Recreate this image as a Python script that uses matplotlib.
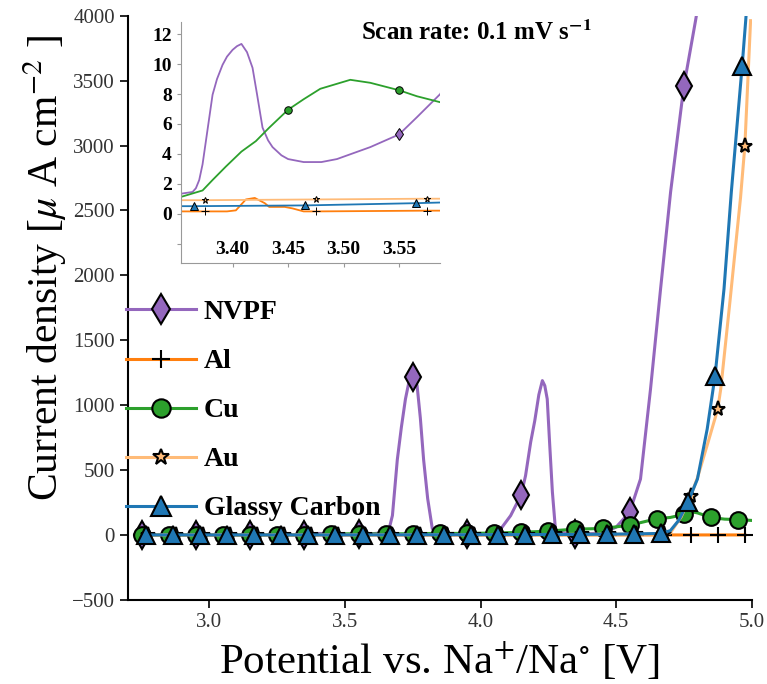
import numpy as np
import matplotlib
matplotlib.use('Agg')
import matplotlib.pyplot as plt

plt.rcParams['font.family'] = ['Liberation Serif', 'DejaVu Serif']
plt.rcParams['mathtext.fontset'] = 'stix'

# NVPF (uA cm-2)
nvpf_x = [2.75, 2.85, 2.95, 3.05, 3.15, 3.25, 3.35, 3.355, 3.364, 3.367, 3.370, 3.373,
          3.376, 3.379, 3.382, 3.386, 3.391, 3.395, 3.400, 3.404, 3.408, 3.413, 3.418,
          3.422, 3.427, 3.432, 3.436, 3.444, 3.45, 3.464, 3.48, 3.494, 3.524, 3.55,
          3.566, 3.587, 3.62, 3.65, 3.662, 3.675, 3.693, 3.708, 3.723, 3.737, 3.745,
          3.75, 3.758, 3.766, 3.778, 3.79, 3.805, 3.822, 3.835, 3.85, 3.95, 4.05, 4.074,
          4.111, 4.15, 4.166, 4.185, 4.20, 4.215, 4.228, 4.237, 4.246, 4.255, 4.265,
          4.277, 4.35, 4.45, 4.50, 4.55, 4.59, 4.627, 4.664, 4.701, 4.75, 4.793, 4.82,
          4.85, 4.95]
nvpf_y = [1.3, 1.3, 1.3, 1.3, 1.3, 1.3, 1.3, 1.35, 1.45, 1.7, 2.25, 3.3,
          4.85, 6.4, 7.95, 9.0, 9.95, 10.5, 10.95, 11.2, 11.35, 10.8, 9.75,
          8.0, 5.75, 4.9, 4.45, 3.9, 3.65, 3.45, 3.45, 3.65, 4.45, 5.3,
          6.45, 8.0, 13, 25, 40, 150, 580, 830, 1047, 1190, 1212,
          1215, 1200, 1150, 900, 580, 280, 50, 15, 10, 5, 12, 45,
          149, 310, 457, 716, 880, 1080, 1189, 1150, 1047, 700, 331,
          25, 5, 15, 60, 175, 431, 1125, 1895, 2642, 3457, 3962, 4300,
          4700, 6000]

# Al
al_x = [2.775, 2.875, 2.975, 3.075, 3.175, 3.275, 3.353, 3.375, 3.395, 3.403, 3.412,
        3.42, 3.429, 3.433, 3.447, 3.454, 3.464, 3.475, 3.575, 3.59, 3.675, 3.775,
        3.875, 3.975, 4.075, 4.175, 4.275, 4.375, 4.475, 4.575, 4.675, 4.775, 4.875, 4.975]
al_y = [0.15, 0.15, 0.15, 0.15, 0.15, 0.15, 0.15, 0.15, 0.15, 0.22, 0.95,
        1.05, 0.7, 0.45, 0.45, 0.35, 0.15, 0.15, 0.2, 0.2, 0.2, 0.2,
        0.2, 0.2, 0.2, 0.2, 0.2, 0.2, 0.2, 0.2, 0.2, 0.2, 0.2, 0.2]

# Cu
cu_x = [2.75, 2.85, 2.95, 3.05, 3.15, 3.25, 3.35, 3.355, 3.373, 3.382, 3.394, 3.408,
        3.421, 3.433, 3.45, 3.464, 3.479, 3.506, 3.524, 3.55, 3.566, 3.587, 3.65, 3.75,
        3.85, 3.95, 4.05, 4.15, 4.25, 4.35, 4.45, 4.55, 4.65, 4.70, 4.75, 4.78, 4.80,
        4.85, 4.90, 4.95, 5.0]
cu_y = [1.1, 1.1, 1.1, 1.1, 1.1, 1.1, 1.1, 1.15, 1.55, 2.25, 3.15, 4.15,
        4.85, 5.75, 6.95, 7.65, 8.35, 8.95, 8.75, 8.25, 7.85, 7.45, 8, 10,
        12, 12, 15, 20, 30, 45, 50, 75, 125, 135, 158, 178, 170,
        135, 122, 118, 112]

# Au
au_x = [2.775, 2.875, 2.975, 3.075, 3.175, 3.275, 3.353, 3.375, 3.475, 3.575, 3.59,
        3.675, 3.775, 3.875, 3.975, 4.075, 4.175, 4.275, 4.375, 4.475, 4.575, 4.675,
        4.70, 4.74, 4.775, 4.80, 4.84, 4.875, 4.886, 4.92, 4.959, 4.975, 4.996]
au_y = [0.85, 0.85, 0.85, 0.85, 0.85, 0.85, 0.9, 0.9, 0.95, 1.0, 1.0,
        1.2, 1.5, 2, 2, 3, 3, 4, 5, 6, 6, 6,
        15, 140, 300, 440, 720, 971, 1125, 1800, 2600, 3000, 3962]

# Glassy Carbon
gc_x = [2.765, 2.865, 2.965, 3.065, 3.165, 3.265, 3.353, 3.365, 3.465, 3.565, 3.59,
        3.665, 3.765, 3.865, 3.965, 4.065, 4.165, 4.265, 4.365, 4.465, 4.565, 4.665,
        4.70, 4.73, 4.765, 4.80, 4.836, 4.865, 4.898, 4.925, 4.965, 4.978, 4.99]
gc_y = [0.45, 0.45, 0.45, 0.45, 0.45, 0.45, 0.5, 0.5, 0.55, 0.7, 0.75,
        1, 1.5, 2, 2, 3, 3, 4, 4, 6, 8, 12,
        33, 110, 252, 431, 816, 1227, 1895, 2642, 3616, 3962, 4300]

# where the symbols sit on each curve
nvpf_marks = np.arange(2.75, 4.96, 0.2)
cu_marks = np.arange(2.75, 4.96, 0.1)
gc_marks = np.arange(2.765, 4.97, 0.1)
au_marks = np.arange(2.775, 4.98, 0.1)

series = [
    ('NVPF', nvpf_x, nvpf_y, nvpf_marks, '#9467bd', 'd', 14, '#9467bd'),
    ('Al', al_x, al_y, au_marks, '#ff7f0e', '+', 12, 'black'),
    ('Cu', cu_x, cu_y, cu_marks, '#2ca02c', 'o', 12, '#2ca02c'),
    ('Au', au_x, au_y, au_marks, '#ffbb78', '*', 11, '#ffbb78'),
    ('Glassy Carbon', gc_x, gc_y, gc_marks, '#1f77b4', '^', 13, '#1f77b4'),
]

fig = plt.figure(figsize=(7.67, 6.84), dpi=100)
ax = fig.add_axes([0.167, 0.123, 0.813, 0.854])
axin = fig.add_axes([0.236, 0.6155, 0.338, 0.352])
axin.patch.set_alpha(0)

for name, x, y, marks, col, mk, ms, fc in series:
    x = np.array(x)
    every = np.isin(np.round(x, 3), np.round(marks, 3))
    ax.plot(x, y, color=col, lw=2.2, marker=mk, ms=ms, mfc=fc, mec='black',
            mew=1.5, markevery=list(every), label=name)
    axin.plot(x, y, color=col, lw=1.3, marker=mk, ms=ms * 0.45, mfc=fc,
              mec='black', mew=0.7, markevery=list(every))

ax.set_xlim(2.70, 5.0)
ax.set_ylim(-500, 4000)
ax.set_xticks([3.0, 3.5, 4.0, 4.5, 5.0])
ax.set_yticks(np.arange(-500, 4001, 500))
ax.spines['top'].set_visible(False)
ax.spines['right'].set_visible(False)
for s in ['left', 'bottom']:
    ax.spines[s].set_linewidth(1.5)
ax.tick_params(labelsize=15, length=6, width=1.2, labelcolor='#333333')
ax.set_xlabel(r'Potential vs. Na$^{+}$/Na$^{\circ}$ [V]', fontsize=31, labelpad=6)
ax.set_ylabel(r'Current density [$\mu$ A cm$^{-2}$ ]', fontsize=30)
ax.yaxis.set_label_coords(-0.095, 0.568)

fig.text(0.6215, 0.952, r'Scan rate: 0.1 mV s$^{\mathbf{-1}}$',
         ha='center', va='center', fontsize=18, fontweight='bold')

ax.legend(loc='center left', bbox_to_anchor=(-0.003, 0.324), frameon=False,
          prop={'weight': 'bold', 'size': 20}, handlelength=2.5, handletextpad=0.3,
          labelspacing=0.85, borderaxespad=0, borderpad=0, markerscale=1.1)

# inset
axin.set_xlim(3.3536, 3.587)
axin.set_ylim(-3.3, 12.8)
axin.set_xticks([3.40, 3.45, 3.50, 3.55])
axin.set_xticklabels(['3.40', '3.45', '3.50', '3.55'], fontweight='bold')
axin.set_yticks(np.arange(-2, 13, 2))
axin.set_yticklabels([''] + [str(v) for v in range(0, 13, 2)], fontweight='bold')
axin.spines['top'].set_visible(False)
axin.spines['right'].set_visible(False)
for s in ['left', 'bottom']:
    axin.spines[s].set_color('#999999')
axin.tick_params(axis='x', labelsize=14, length=3, pad=-19, color='#999999')
axin.tick_params(axis='y', labelsize=14, length=3, color='#999999')

fig.savefig('out.png', dpi=100)
